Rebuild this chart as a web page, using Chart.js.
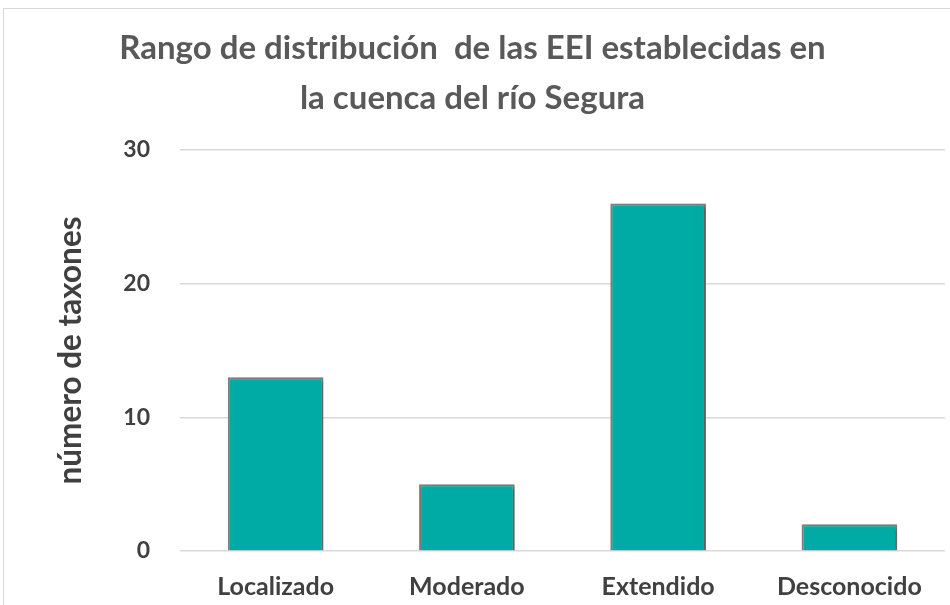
<!DOCTYPE html>
<html><head><meta charset="utf-8">
<script src="https://cdn.jsdelivr.net/npm/chart.js@4"></script>
<style>html,body{margin:0;padding:0;background:#fff}#wrap{width:950px;height:605px;position:relative}</style>
</head><body><div id="wrap"><canvas id="c" width="950" height="605"></canvas></div>
<script>
const categories = ["Localizado", "Moderado", "Extendido", "Desconocido"];
const taxones = [13, 5, 26, 2];
const yTicks = [0, 10, 20, 30];
const titleLines = ["Rango de distribución  de las EEI establecidas en", "la cuenca del río Segura"];
const yTitle = "número de taxones";

const FONT = "Lato, 'Open Sans', sans-serif";
const shadowPlugin = {
  id: 'shadow',
  beforeDatasetsDraw(chart) {
    const ctx = chart.ctx; ctx.save();
    ctx.shadowColor = 'rgba(0,0,0,0.35)'; ctx.shadowBlur = 4; ctx.shadowOffsetX = 2; ctx.shadowOffsetY = 2;
  },
  afterDatasetsDraw(chart) { chart.ctx.restore(); }
};
const frame = {
  id: 'frame',
  beforeDraw(chart) {
    const ctx = chart.ctx; ctx.save(); ctx.strokeStyle = '#d9d9d9'; ctx.lineWidth = 1;
    ctx.strokeRect(3.5, 8.5, 960, 620); ctx.restore();
  }
};
new Chart(document.getElementById('c'), {
  type: 'bar',
  data: { labels: categories, datasets: [{ data: taxones, backgroundColor: '#00ABA6', borderColor: '#808080', borderWidth: 2, categoryPercentage: 0.5, barPercentage: 1 }] },
  options: {
    responsive: false, animation: false,
    layout: { padding: { left: 0, right: 5, top: 23, bottom: 0 } },
    plugins: {
      legend: { display: false }, tooltip: { enabled: false },
      title: { display: true, text: titleLines, color: '#595959', font: { family: FONT, size: 33, weight: 'bold', lineHeight: 1.515 }, padding: { top: 0, bottom: 27 } }
    },
    scales: {
      x: { grid: { display: false }, border: { display: false },
           afterFit(ax){ ax.height = 54; },
           ticks: { color: '#404040', font: { family: FONT, size: 25, weight: 'bold' }, padding: 13 } },
      y: { min: 0, max: 30, afterBuildTicks(ax){ ax.ticks = yTicks.map(v=>({value:v})); },
           afterFit(ax){ ax.width = 180; },
           grid: { color: '#d9d9d9', lineWidth: 1.5, drawTicks: false }, border: { display: false },
           ticks: { color: '#404040', font: { family: FONT, size: 23, weight: 'bold' }, padding: 30 },
           title: { display: true, text: yTitle, color: '#404040', font: { family: FONT, size: 31.5, weight: 'bold', lineHeight: 1.2 }, padding: { top: 52, bottom: 0 } } }
    }
  },
  plugins: [shadowPlugin, frame]
});
</script></body></html>
